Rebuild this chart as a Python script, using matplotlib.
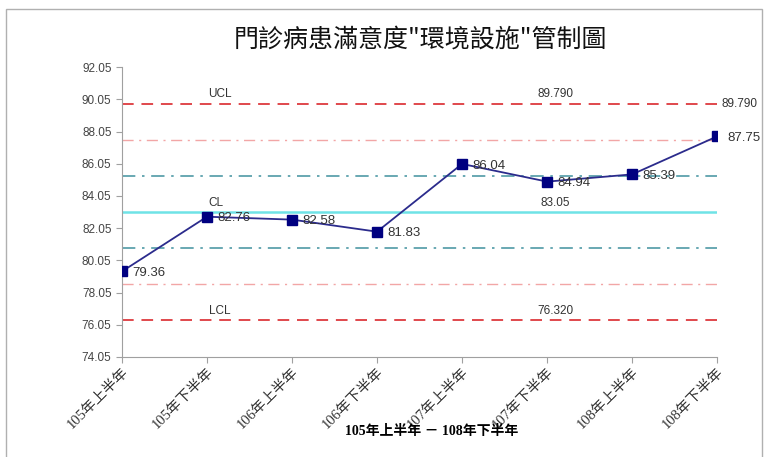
import matplotlib
matplotlib.use('Agg')
import matplotlib.pyplot as plt
from matplotlib.patches import Rectangle

plt.rcParams['font.family'] = ['Liberation Sans', 'Noto Sans CJK TC', 'DejaVu Sans']

# data
periods = ['105年上半年', '105年下半年', '106年上半年', '106年下半年',
           '107年上半年', '107年下半年', '108年上半年', '108年下半年']
scores = [79.36, 82.76, 82.58, 81.83, 86.04, 84.94, 85.39, 87.75]
ucl = 89.79
cl = 83.05
lcl = 76.32
yticks = [74.05, 76.05, 78.05, 80.05, 82.05, 84.05, 86.05, 88.05, 90.05, 92.05]

sigma = (ucl - cl) / 3
x = list(range(len(periods)))

fig = plt.figure(figsize=(7.67, 4.57), dpi=100)
fig.patches.append(Rectangle((0.008, -0.02), 0.986, 1.0, transform=fig.transFigure,
                             fill=False, edgecolor='#b0b0b0', linewidth=1.0))
ax = fig.add_axes([0.159, 0.219, 0.776, 0.634])

xmax = len(periods) - 1
# control lines
ax.hlines(ucl, 0, xmax, colors='#e0474c', linestyles=(0, (6, 4)), linewidth=1.4)
ax.hlines(lcl, 0, xmax, colors='#e0474c', linestyles=(0, (6, 4)), linewidth=1.4)
ax.hlines([cl + 2 * sigma, cl - 2 * sigma], 0, xmax, colors='#f2a6a6',
          linestyles=(0, (8, 4, 1.5, 4)), linewidth=1.0)
ax.hlines([cl + sigma, cl - sigma], 0, xmax, colors='#4f9aa6',
          linestyles=(0, (8, 4, 1.5, 4)), linewidth=1.2)
ax.hlines(cl, 0, xmax, colors='#6fe3e6', linewidth=1.8)

# data series
ax.plot(x, scores, color='#2b2b8c', linewidth=1.3, marker='s', markersize=6.5,
        markerfacecolor='#000080', markeredgecolor='#000080', zorder=5)
for xi, v in zip(x, scores):
    ax.text(xi + 0.12, v - 0.1, f'{v:.2f}', fontsize=9.5, color='#333333',
            va='center', ha='left', zorder=6)

# line labels
lab = dict(fontsize=8.5, color='#333333', ha='center', va='bottom')
ax.text(1.15, ucl + 0.2, 'UCL', **lab)
ax.text(5.1, ucl + 0.2, f'{ucl:.3f}', **lab)
ax.text(7.05, ucl, f'{ucl:.3f}', fontsize=8.5, color='#333333', ha='left', va='center')
ax.text(1.1, cl + 0.2, 'CL', **lab)
ax.text(5.1, cl + 0.2, f'{cl:.2f}', **lab)
ax.text(1.15, lcl + 0.2, 'LCL', **lab)
ax.text(5.1, lcl + 0.2, f'{lcl:.3f}', **lab)

ax.set_xlim(0, xmax)
ax.set_ylim(yticks[0], yticks[-1])
ax.set_yticks(yticks)
ax.set_yticklabels([f'{t:.2f}' for t in yticks], fontsize=8.5, color='#444444')
ax.set_xticks(x)
ax.set_xticklabels(periods, rotation=45, ha='right', rotation_mode='anchor',
                   fontsize=10.5, color='#333333',
                   family=['Liberation Serif', 'Noto Sans CJK TC'])
ax.tick_params(axis='both', color='#a0a0a0', length=4)
ax.tick_params(axis='x', pad=2)
for side in ['top', 'right']:
    ax.spines[side].set_visible(False)
for side in ['left', 'bottom']:
    ax.spines[side].set_color('#a0a0a0')

fig.text(432 / 767, 1 - 432 / 457, '105年上半年 － 108年下半年', fontsize=10,
         fontweight='bold', ha='center', va='center',
         family=['Liberation Serif', 'Noto Sans CJK TC'])
fig.text(420 / 767, 1 - 40 / 457, '門診病患滿意度"環境設施"管制圖', fontsize=18,
         ha='center', va='center', family=['Noto Sans CJK TC'], color='#111111')

fig.savefig('out.png', dpi=100)
